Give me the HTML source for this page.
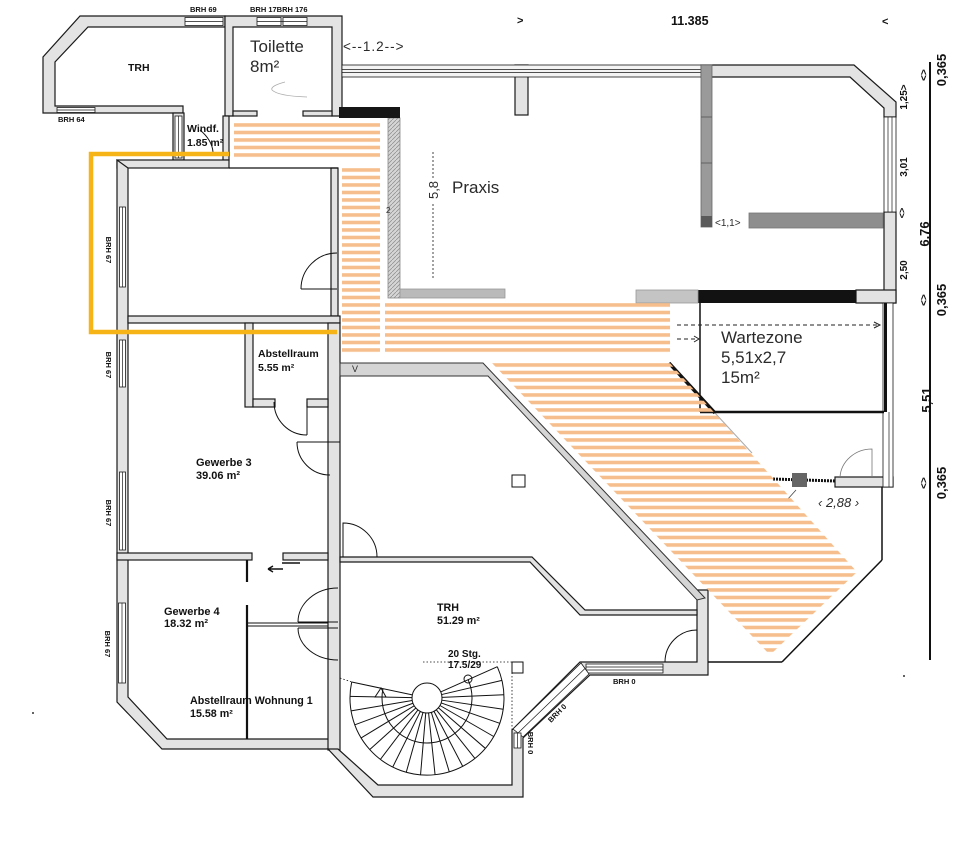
<!DOCTYPE html>
<html><head><meta charset="utf-8"><style>
html,body{margin:0;padding:0;background:#fff;}
svg{display:block;}
text{font-family:"Liberation Sans",Arial,sans-serif;}
.b{font-weight:bold;fill:#111;}
.l{fill:#2a2a2a;}
</style></head><body>
<svg width="960" height="857" viewBox="0 0 960 857" xmlns="http://www.w3.org/2000/svg">
<defs>
<pattern id="st" patternUnits="userSpaceOnUse" x="0" y="3.2" width="20" height="7.5">
<rect x="0" y="0" width="20" height="3.6" fill="#f6be8c"/>
</pattern>
<pattern id="hat" patternUnits="userSpaceOnUse" width="4" height="4">
<rect width="4" height="4" fill="#d6d6d6"/>
<path d="M0,4 L4,0" stroke="#8a8a8a" stroke-width="0.7"/>
</pattern>
</defs>
<rect width="960" height="857" fill="#fff"/>

<!-- ========== WALLS (gray) ========== -->
<g fill="#e3e3e3" stroke="#1a1a1a" stroke-width="1.2">
<!-- top-left TRH -->
<polygon points="183,113 43,113 43,57 80,16 225,16 225,27 88,27 55,62 55,106 183,106"/>
<!-- toilette walls -->
<polygon points="225,16 342,16 342,116 332,116 332,27 233,27 233,116 225,116"/>
<rect x="233" y="111" width="24" height="5"/>
<rect x="303" y="111" width="29" height="5"/>
<!-- Windf -->
<rect x="173" y="113" width="11" height="47"/>
<rect x="223" y="116" width="6" height="44"/>
<!-- left block -->
<rect x="117" y="160" width="112" height="8"/>
<polygon points="117,160 117,702 162,749 338,749 338,739 167,739 128,697 128,168"/>
<rect x="331" y="168" width="7" height="148"/>
<rect x="128" y="316" width="212" height="7"/>
<rect x="328" y="323" width="12" height="427"/>
<rect x="245" y="323" width="8" height="84"/>
<rect x="253" y="399" width="22" height="8"/>
<rect x="307" y="399" width="21" height="8"/>
<rect x="117" y="553" width="135" height="7"/>
<rect x="283" y="553" width="45" height="7"/>
<!-- lower TRH -->
<polygon points="328,749 338,749 378,785 512,785 512,730 580,662 697,662 697,590 708,590 708,675 590,675 523,738 523,797 373,797"/>
<polygon points="377,557 532,557 585,610 697,610 697,615 580,615 530,562 340,562 340,557"/>
<!-- praxis top right -->
<polygon points="701,65 854,65 896,102 896,117 884,117 884,108 850,77 701,77"/>
<rect x="884" y="212" width="12" height="91"/>
<rect x="856" y="290" width="40" height="13"/>
<rect x="515" y="65" width="13" height="50"/>
<!-- right lower short wall -->
<rect x="835" y="477" width="58" height="10"/>
</g>

<!-- windows -->
<g fill="#fff" stroke="#1a1a1a" stroke-width="0.8">
<rect x="185" y="17.5" width="38" height="8"/>
<rect x="257" y="17.5" width="24" height="8"/>
<rect x="283" y="17.5" width="24" height="8"/>
<rect x="57" y="107.5" width="38" height="5"/>
<rect x="175" y="116" width="7" height="42"/>
<rect x="119.5" y="207" width="6" height="80"/>
<rect x="119.5" y="340" width="6" height="47"/>
<rect x="119.5" y="472" width="6" height="78"/>
<rect x="118.5" y="603" width="7" height="80"/>
<rect x="586" y="664" width="77" height="9"/>
<polygon points="581,663 589,674 523,737 513,729"/>
<rect x="514" y="733" width="7" height="15"/>
<rect x="342" y="65" width="359" height="12" fill="#f4f4f4"/>
<rect x="884" y="117" width="12" height="95"/>
<rect x="883" y="303" width="10" height="184"/>
</g>
<g stroke="#1a1a1a" stroke-width="0.7" fill="none">
<line x1="185" y1="21.5" x2="223" y2="21.5"/>
<line x1="257" y1="21.5" x2="307" y2="21.5"/>
<line x1="57" y1="110" x2="95" y2="110"/>
<line x1="178.5" y1="116" x2="178.5" y2="158"/>
<line x1="122.5" y1="207" x2="122.5" y2="287"/>
<line x1="122.5" y1="340" x2="122.5" y2="387"/>
<line x1="122.5" y1="472" x2="122.5" y2="550"/>
<line x1="122" y1="603" x2="122" y2="683"/>
<line x1="586" y1="667" x2="663" y2="667"/>
<line x1="586" y1="670" x2="663" y2="670"/>
<line x1="585" y1="668.5" x2="518" y2="733"/>
<line x1="517.5" y1="733" x2="517.5" y2="748"/>
<line x1="342" y1="69.5" x2="701" y2="69.5"/>
<line x1="342" y1="72.5" x2="701" y2="72.5"/>
<line x1="888" y1="117" x2="888" y2="212"/>
<line x1="892" y1="117" x2="892" y2="212"/>
<line x1="889" y1="412" x2="889" y2="487"/>
</g>

<!-- hand-drawn / dark walls -->
<rect x="701" y="65" width="11" height="162" fill="#9a9a9a" stroke="#666" stroke-width="0.8"/>
<line x1="701" y1="117" x2="712" y2="117" stroke="#555" stroke-width="0.8"/>
<line x1="701" y1="163" x2="712" y2="163" stroke="#555" stroke-width="0.8"/>
<rect x="701" y="216" width="11" height="11" fill="#5a5a5a"/>
<rect x="749" y="213" width="134" height="15" fill="#8e8e8e" stroke="#777" stroke-width="0.8"/>
<rect x="698" y="290" width="158" height="13" fill="#121212"/>
<rect x="388" y="118" width="12" height="180" fill="url(#hat)" stroke="#888" stroke-width="0.8"/>
<rect x="339" y="107" width="61" height="11" fill="#161616"/>
<rect x="400" y="289" width="105" height="9" fill="#bababa" stroke="#999" stroke-width="0.8"/>
<rect x="636" y="290" width="62" height="13" fill="#c4c4c4" stroke="#999" stroke-width="0.8"/>

<!-- corridor top wall + diagonal -->
<polygon points="340,363 483,363 705,598 697,600 488,376 340,376" fill="#d5d5d5" stroke="#333" stroke-width="1"/>
<line x1="669" y1="363" x2="715" y2="413" stroke="#111" stroke-width="3.5"/>
<line x1="715" y1="413" x2="752" y2="453" stroke="#aaa" stroke-width="1"/>

<!-- Wartezone -->
<line x1="700" y1="303" x2="700" y2="412" stroke="#111" stroke-width="1.5"/>
<line x1="700" y1="412" x2="884" y2="412" stroke="#111" stroke-width="2.5"/>
<line x1="885.5" y1="303" x2="885.5" y2="412" stroke="#111" stroke-width="3"/>
<g stroke="#222" stroke-width="1" fill="none" stroke-dasharray="4,3">
<line x1="677" y1="325" x2="877" y2="325"/>
<line x1="677" y1="339" x2="695" y2="339"/>
</g>
<g stroke="#222" stroke-width="1" fill="none">
<path d="M874,322 L880,325 L874,328"/>
<path d="M694,336 L699,339 L694,342"/>
</g>

<!-- right lower outline -->
<g stroke="#111" stroke-width="1.5" fill="none">
<line x1="882" y1="487" x2="882" y2="560"/>
<line x1="882" y1="560" x2="782" y2="662"/>
<line x1="782" y1="662" x2="708" y2="662"/>
</g>
<line x1="773" y1="479" x2="835" y2="481" stroke="#111" stroke-width="3" stroke-dasharray="2,1"/>
<rect x="792" y="473" width="15" height="14" fill="#666"/>
<path d="M840,477 A32,30 0 0 1 872,449 L872,477" fill="none" stroke="#777" stroke-width="0.8"/>
<line x1="796" y1="490" x2="787" y2="500" stroke="#444" stroke-width="0.8"/>

<!-- thin lines / partitions -->
<g stroke="#111" fill="none">
<line x1="229" y1="168" x2="338" y2="168" stroke-width="1.2"/>
<line x1="247" y1="560" x2="247" y2="582" stroke-width="2.2"/>
<line x1="247" y1="605" x2="247" y2="739" stroke-width="2.2"/>
<line x1="247" y1="623" x2="328" y2="623" stroke-width="1"/>
<line x1="247" y1="626" x2="328" y2="626" stroke-width="1"/>
</g>

<!-- doors -->
<g stroke="#111" stroke-width="1" fill="none">
<path d="M301,289 L337,289 M301,289 A36,36 0 0 1 337,253"/>
<path d="M307,402 L307,435 M274,402 A33,33 0 0 0 307,435"/>
<path d="M297,442 L340,442 M297,442 A33,33 0 0 0 330,475"/>
<path d="M298,622 L338,622 M298,622 A40,34 0 0 1 338,588"/>
<path d="M298,628 L338,628 M298,628 A40,32 0 0 0 338,660"/>
<path d="M343,557 L343,523 A34,34 0 0 1 377,557"/>
<path d="M697,662 L697,630 M697,630 A32,32 0 0 0 665,662"/>
<path d="M200,130 Q212,140 213,152"/>
<path d="M282,563 L300,563 M268,569 L283,569 M268,569 L273,566 M268,569 L273,572" stroke-width="1.4"/>
</g>
<path d="M285,82 Q270,86 272,90 Q278,96 307,97" fill="none" stroke="#aaa" stroke-width="0.8"/>

<!-- stair -->
<g stroke="#111" stroke-width="0.8" fill="none" stroke-dasharray="1.5,2">
<path d="M423,662 H522 M512,662 V730 M340,678 L352,682"/>
</g>
<rect x="512" y="662" width="11" height="11" fill="#fff" stroke="#111" stroke-width="1"/>
<rect x="512" y="475" width="13" height="12" fill="#fff" stroke="#111" stroke-width="1"/>
<g transform="translate(427,698)" fill="none" stroke="#111" stroke-width="1">
<path d="M-75.3,-16 A77,77 0 1 0 70.3,-31.3"/>
<path d="M-44,-9.4 A45,45 0 1 0 41.1,-18.3"/>
<line x1="15" y1="0" x2="77" y2="0" transform="rotate(192)"/>
<line x1="15" y1="0" x2="77" y2="0" transform="rotate(181.2)"/>
<line x1="15" y1="0" x2="77" y2="0" transform="rotate(170.4)"/>
<line x1="15" y1="0" x2="77" y2="0" transform="rotate(159.6)"/>
<line x1="15" y1="0" x2="77" y2="0" transform="rotate(148.8)"/>
<line x1="15" y1="0" x2="77" y2="0" transform="rotate(138)"/>
<line x1="15" y1="0" x2="77" y2="0" transform="rotate(127.2)"/>
<line x1="15" y1="0" x2="77" y2="0" transform="rotate(116.4)"/>
<line x1="15" y1="0" x2="77" y2="0" transform="rotate(105.6)"/>
<line x1="15" y1="0" x2="77" y2="0" transform="rotate(94.8)"/>
<line x1="15" y1="0" x2="77" y2="0" transform="rotate(84)"/>
<line x1="15" y1="0" x2="77" y2="0" transform="rotate(73.2)"/>
<line x1="15" y1="0" x2="77" y2="0" transform="rotate(62.4)"/>
<line x1="15" y1="0" x2="77" y2="0" transform="rotate(51.6)"/>
<line x1="15" y1="0" x2="77" y2="0" transform="rotate(40.8)"/>
<line x1="15" y1="0" x2="77" y2="0" transform="rotate(30)"/>
<line x1="15" y1="0" x2="77" y2="0" transform="rotate(19.2)"/>
<line x1="15" y1="0" x2="77" y2="0" transform="rotate(8.4)"/>
<line x1="15" y1="0" x2="77" y2="0" transform="rotate(-2.4)"/>
<line x1="15" y1="0" x2="77" y2="0" transform="rotate(-13.2)"/>
<line x1="15" y1="0" x2="77" y2="0" transform="rotate(-24)"/>
<circle r="15" fill="#fff"/>
</g>
<circle cx="468" cy="679" r="4" fill="none" stroke="#111" stroke-width="1"/>
<polygon points="375,697 381,688 386,697" fill="none" stroke="#111" stroke-width="1"/>

<!-- Praxis dim -->
<line x1="433" y1="152" x2="433" y2="280" stroke="#444" stroke-width="1" stroke-dasharray="2,2"/>
<rect x="427" y="178" width="12" height="24" fill="#fff"/>
<text transform="translate(438,190) rotate(-90)" text-anchor="middle" font-size="13" class="l">5,8</text>

<!-- dimension line right -->
<line x1="930" y1="62" x2="930" y2="660" stroke="#111" stroke-width="2"/>

<!-- ========== STRIPES ========== -->
<g fill="url(#st)">
<rect x="234" y="122" width="146" height="36"/>
<rect x="342" y="167" width="38" height="186"/>
<rect x="385" y="302" width="285" height="51"/>
<polygon points="491,362 669,362 857,572 770,655"/>
</g>

<!-- yellow -->
<path d="M229,154 H91 V332 H337" fill="none" stroke="#f7b416" stroke-width="4.5"/>

<!-- ========== TEXT ========== -->
<text x="190" y="12" class="b" font-size="7.5">BRH 69</text>
<text x="250" y="12" class="b" font-size="7.5">BRH 17BRH 176</text>
<text x="58" y="122" class="b" font-size="7.5">BRH 64</text>
<text x="128" y="71" class="b" font-size="10.5">TRH</text>
<text x="250" y="52" font-size="17" class="l">Toilette</text>
<text x="250" y="72" font-size="17" class="l">8m²</text>
<text x="343" y="51" font-size="13.5" letter-spacing="1" class="l">&lt;--1.2--&gt;</text>
<text x="187" y="132" class="b" font-size="10.5">Windf.</text>
<text x="187" y="146" class="b" font-size="10.5">1.85 m²</text>
<text x="517" y="24" class="b" font-size="11">&gt;</text>
<text x="671" y="25" class="b" font-size="12.5">11.385</text>
<text x="882" y="25" class="b" font-size="11">&lt;</text>
<text x="452" y="193" font-size="17" class="l">Praxis</text>
<text x="715" y="226" font-size="10" class="l">&lt;1,1&gt;</text>
<text x="386" y="213" font-size="8" class="l">2</text>
<text x="721" y="343" font-size="17" class="l">Wartezone</text>
<text x="721" y="363" font-size="17" class="l">5,51x2,7</text>
<text x="721" y="383" font-size="17" class="l">15m²</text>
<text x="818" y="507" font-size="13" font-style="italic" class="l">‹ 2,88 ›</text>
<text x="352" y="372" font-size="9" class="l">V</text>

<text x="258" y="357" class="b" font-size="10.5">Abstellraum</text>
<text x="258" y="371" class="b" font-size="10.5">5.55 m²</text>
<text x="196" y="466" class="b" font-size="11">Gewerbe 3</text>
<text x="196" y="479" class="b" font-size="11">39.06 m²</text>
<text x="164" y="615" class="b" font-size="11">Gewerbe 4</text>
<text x="164" y="627" class="b" font-size="11">18.32 m²</text>
<text x="190" y="704" class="b" font-size="10.7">Abstellraum Wohnung 1</text>
<text x="190" y="717" class="b" font-size="10.7">15.58 m²</text>
<text x="437" y="611" class="b" font-size="10.7">TRH</text>
<text x="437" y="624" class="b" font-size="10.7">51.29 m²</text>
<text x="448" y="657" class="b" font-size="10">20 Stg.</text>
<text x="448" y="668" class="b" font-size="10">17.5/29</text>

<text transform="translate(106,250) rotate(90)" text-anchor="middle" class="b" font-size="7.5">BRH 67</text>
<text transform="translate(106,365) rotate(90)" text-anchor="middle" class="b" font-size="7.5">BRH 67</text>
<text transform="translate(106,513) rotate(90)" text-anchor="middle" class="b" font-size="7.5">BRH 67</text>
<text transform="translate(105,644) rotate(90)" text-anchor="middle" class="b" font-size="7.5">BRH 67</text>

<text x="613" y="684" class="b" font-size="7.5">BRH 0</text>
<text transform="translate(559,715) rotate(-45)" text-anchor="middle" class="b" font-size="7.5">BRH 0</text>
<text transform="translate(528,743) rotate(90)" text-anchor="middle" class="b" font-size="7.5">BRH 0</text>

<!-- right dims -->
<text transform="translate(946,70) rotate(-90)" text-anchor="middle" class="b" font-size="13">0,365</text>
<text transform="translate(927,75) rotate(-90)" text-anchor="middle" class="b" font-size="10">&lt;&gt;</text>
<text transform="translate(907,97) rotate(-90)" text-anchor="middle" class="b" font-size="10">1,25&gt;</text>
<text transform="translate(907,167) rotate(-90)" text-anchor="middle" class="b" font-size="10">3,01</text>
<text transform="translate(905,213) rotate(-90)" text-anchor="middle" class="b" font-size="9">&lt;&gt;</text>
<text transform="translate(907,270) rotate(-90)" text-anchor="middle" class="b" font-size="10">2,50</text>
<text transform="translate(929,234) rotate(-90)" text-anchor="middle" class="b" font-size="13">6,76</text>
<text transform="translate(946,300) rotate(-90)" text-anchor="middle" class="b" font-size="13">0,365</text>
<text transform="translate(927,300) rotate(-90)" text-anchor="middle" class="b" font-size="10">&lt;&gt;</text>
<text transform="translate(931,400) rotate(-90)" text-anchor="middle" class="b" font-size="13">5,51</text>
<text transform="translate(927,483) rotate(-90)" text-anchor="middle" class="b" font-size="10">&lt;&gt;</text>
<text transform="translate(946,483) rotate(-90)" text-anchor="middle" class="b" font-size="13">0,365</text>

<circle cx="33" cy="713" r="1" fill="#333"/>
<circle cx="904" cy="676" r="1" fill="#333"/>
</svg>
</body></html>
